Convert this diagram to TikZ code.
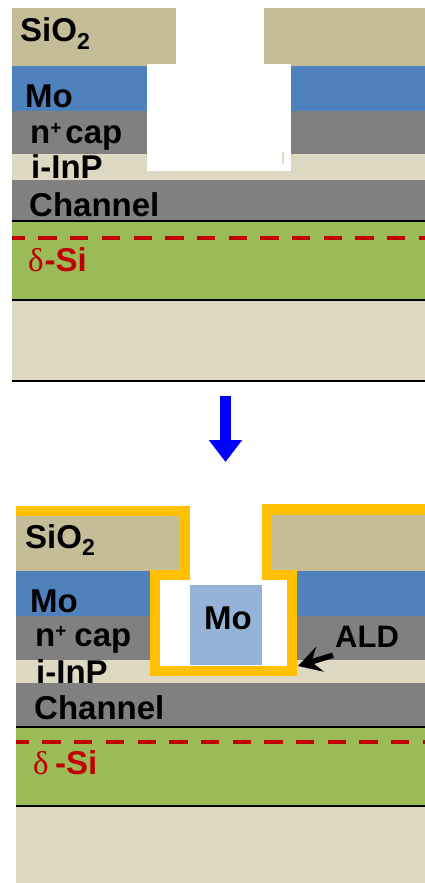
\documentclass[tikz,border=0pt]{standalone}
\usepackage{xcolor}
\usepackage{fontspec}
\setmainfont{Liberation Sans}
\newfontfamily\deltafont{Liberation Serif}
\usetikzlibrary{arrows.meta, positioning, calc}

\definecolor{oxide}{HTML}{C4BD97}
\definecolor{moly}{HTML}{4F81BD}
\definecolor{molyL}{HTML}{95B3D7}
\definecolor{capgray}{HTML}{808080}
\definecolor{inp}{HTML}{DDD9C3}
\definecolor{barrier}{HTML}{9BBB59}
\definecolor{dopant}{HTML}{C00000}
\definecolor{gold}{HTML}{FFC000}

\newcommand{\capLbl}[1]{n\raisebox{9pt}{\fontsize{19}{19}\selectfont +}\kern#1 cap}

\begin{document}
\begin{tikzpicture}[
  x=1pt, y=-1pt,
  lbl/.style={font=\fontsize{33}{35}\bfseries\selectfont, inner sep=0pt, anchor=base west},
  redlbl/.style={lbl, text=dopant},
  deltaline/.style={draw=dopant, line width=4pt, dash pattern=on 18.3pt off 13.4pt},
  rule/.style={draw=black, line width=1.6pt},
  arrBlue/.style={-{Triangle[length=22pt, width=32pt]}, line width=11pt, draw=blue},
  arrAld/.style={-{Stealth[length=23pt, width=26pt, inset=9pt]}, line width=5.5pt, draw=black},
  coat/.style={draw=gold, line width=10.5pt, miter limit=10},
]
\useasboundingbox (0,0) rectangle (425,883);

% before
\foreach \col/\ya/\yb in {oxide/8/66, moly/66/111, capgray/111/154, inp/154/180,
  capgray/180/221, barrier/221/300, inp/300/381}{
  \fill[\col] (12,\ya) rectangle (425,\yb);
}
\fill[white] (176,8) rectangle (264,66);
\fill[white] (147,64) rectangle (291,171);
\fill[inp] (282,152) rectangle (284,164);
\draw[rule] (12,221) -- (425,221);
\draw[rule] (12,300) -- (425,300);
\draw[rule] (12,381) -- (425,381);
\draw[deltaline, dash phase=5.3pt] (12,238) -- (425,238);

\node[lbl] (oxA) at (20,42) {SiO\textsubscript{2}};
\node[lbl] (moA) at (25,107) {Mo};
\node[lbl] (capA) at (30,143) {\capLbl{4pt}};
\node[lbl] (inpA) at (31,178) {i-InP};
\node[lbl] (chA) at (29,216) {Channel};
\node[redlbl] (siA) at (28,271) {{\deltafont\mdseries δ}\kern1pt-Si};

% process step
\coordinate (stepA) at (225.5,396);
\coordinate (stepB) at (225.5,462);
\draw[arrBlue] (stepA) -- (stepB);

% after
\foreach \col/\ya/\yb in {oxide/515/571, moly/571/616, capgray/616/660, inp/660/683,
  capgray/683/727, barrier/727/806, inp/806/883}{
  \fill[\col] (16,\ya) rectangle (425,\yb);
}
\fill[white] (185,505) rectangle (267,580);
\fill[white] (155,578) rectangle (292,670);
\fill[molyL] (190,585) rectangle (262,665);
\node[lbl] (moB) at (204,629) {Mo};
\draw[coat] (16,511) -- (185,511) -- (185,575) -- (155,575) -- (155,671)
  -- (292,671) -- (292,575) -- (267,575) -- (267,509.5) -- (425,509.5);
\draw[rule] (16,727) -- (425,727);
\draw[rule] (16,806) -- (425,806);
\draw[deltaline, dash phase=5.3pt] (16,742) -- (425,742);

\node[lbl] (oxB) at (25,548) {SiO\textsubscript{2}};
\node[lbl] (moC) at (30,612) {Mo};
\node[lbl] (capB) at (35,646) {\capLbl{8pt}};
\node[lbl] (inpB) at (36,683) {i-InP};
\node[lbl] (chB) at (34,719) {Channel};
\node[redlbl] (siB) at (33,774) {{\deltafont\mdseries δ}\,\kern1pt-Si};
\node[lbl, font=\fontsize{31}{33}\bfseries\selectfont] (ald) at (335,647) {ALD};

\coordinate (aldTip) at (298,666);
\draw[arrAld] ([shift={(-2,8)}]ald.south west) -- (aldTip);
\end{tikzpicture}
\end{document}
